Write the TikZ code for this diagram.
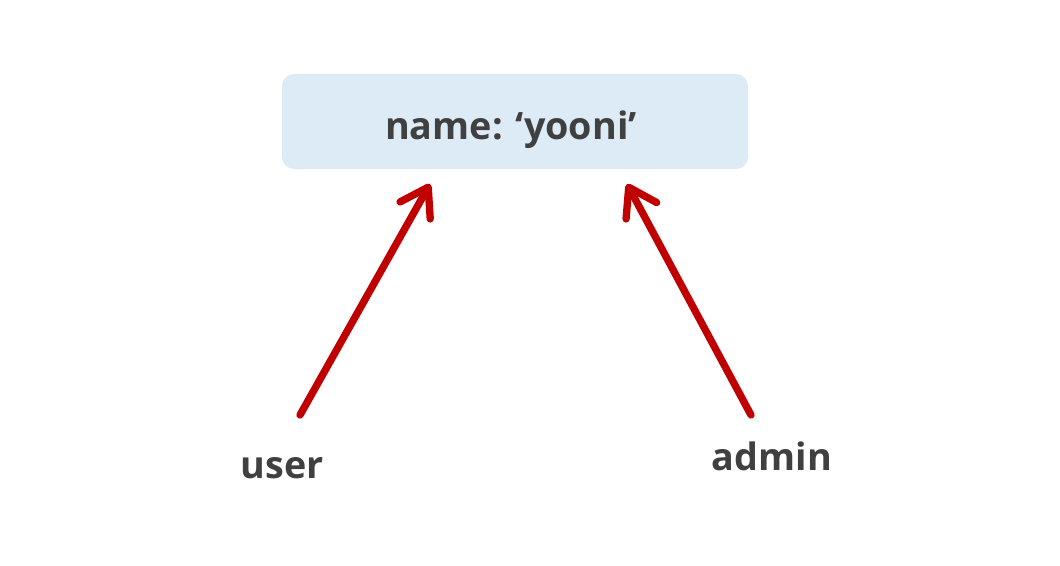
\documentclass[tikz,border=0pt]{standalone}
\usepackage{fontspec}
\setmainfont{Open Sans}
\usetikzlibrary{arrows.meta}
\definecolor{boxfill}{HTML}{DDEBF7}
\definecolor{txt}{HTML}{404040}
\definecolor{arr}{HTML}{C00000}
\tikzset{
  valbox/.style={fill=boxfill, draw=none, rounded corners=9pt, minimum width=349.5pt, minimum height=71.25pt, inner sep=0pt},
  lbl/.style={text=txt, font=\fontsize{28.3}{33}\selectfont\bfseries, inner sep=0pt},
  ref/.style={draw=arr, line width=5.5pt, line cap=round,
    -{Straight Barb[length=20pt,width=26pt,line cap=round,line join=round]}}
}
\begin{document}
\begin{tikzpicture}[x=0.75pt,y=-0.75pt]
\useasboundingbox (0,0) rectangle (1060,566);
\node[valbox] (box) at (515,121.5) {};
\node[lbl, anchor=base] (val) at (511,140) {name: ‘yooni’};
\node[lbl, anchor=base] (user) at (282,478) {user};
\node[lbl, anchor=base] (admin) at (772,470) {admin};
\coordinate (us) at (300,415);
\coordinate (ut) at (430,184);
\coordinate (as) at (751,415);
\coordinate (at) at (627,184);
\draw[ref] (us) -- (ut);
\draw[ref] (as) -- (at);
\end{tikzpicture}
\end{document}
